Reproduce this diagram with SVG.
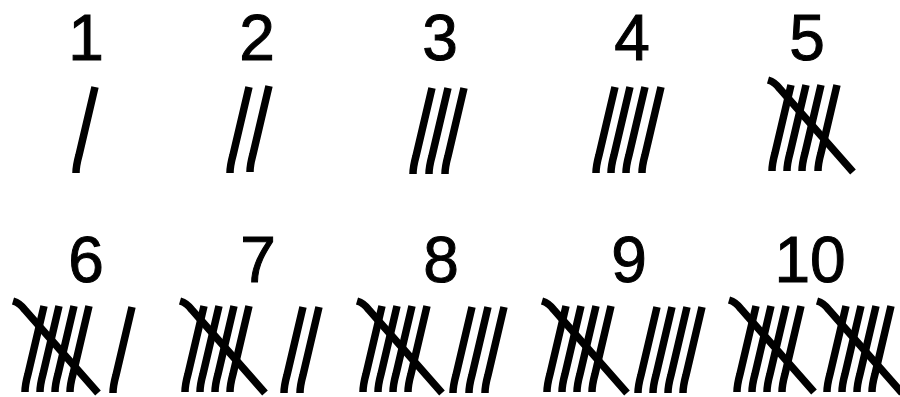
<svg xmlns="http://www.w3.org/2000/svg" xmlns:xlink="http://www.w3.org/1999/xlink" width="900" height="397" viewBox="0 0 900 397">
<style>
.n{font-family:"Liberation Sans","DejaVu Sans",sans-serif;font-size:64px;fill:#000;stroke:#000;stroke-width:1;text-anchor:middle}
.s{fill:none;stroke:#000;stroke-width:7.5}
</style>
<defs>
<path id="m" class="s" d="M20,0 L4,68 Q1,79 1,86"/>
<path id="d" class="s" d="M0,0 Q7,2 12,9 L85,92"/>
</defs>
<rect width="900" height="397" fill="#fff"/>
<g id="n1"><text class="n" x="86" y="60">1</text>
<use xlink:href="#m" x="75" y="87"/></g>
<g id="n2"><text class="n" x="257" y="60">2</text>
<use xlink:href="#m" x="229" y="87"/><use xlink:href="#m" x="249" y="86"/></g>
<g id="n3"><text class="n" x="440" y="60">3</text>
<use xlink:href="#m" x="412" y="88"/><use xlink:href="#m" x="428" y="88"/><use xlink:href="#m" x="444" y="88"/></g>
<g id="n4"><text class="n" x="632" y="60">4</text>
<use xlink:href="#m" x="595" y="87"/><use xlink:href="#m" x="610" y="87"/><use xlink:href="#m" x="625" y="87"/><use xlink:href="#m" x="641" y="87"/></g>
<g id="n5"><text class="n" x="807" y="60">5</text>
<use xlink:href="#m" x="771" y="85"/><use xlink:href="#m" x="786" y="85"/><use xlink:href="#m" x="801" y="85"/><use xlink:href="#m" x="817" y="85"/>
<use xlink:href="#d" x="768" y="80"/></g>
<g id="n6"><text class="n" x="86" y="282">6</text>
<use xlink:href="#m" x="24" y="306"/><use xlink:href="#m" x="39" y="306"/><use xlink:href="#m" x="54" y="306"/><use xlink:href="#m" x="69" y="306"/>
<use xlink:href="#d" x="13" y="301"/>
<use xlink:href="#m" x="112" y="307"/></g>
<g id="n7"><text class="n" x="258" y="282">7</text>
<use xlink:href="#m" x="184" y="306"/><use xlink:href="#m" x="199" y="306"/><use xlink:href="#m" x="214" y="306"/><use xlink:href="#m" x="229" y="306"/>
<use xlink:href="#d" x="180" y="301"/>
<use xlink:href="#m" x="283" y="307"/><use xlink:href="#m" x="299" y="307"/></g>
<g id="n8"><text class="n" x="441" y="282">8</text>
<use xlink:href="#m" x="362" y="306"/><use xlink:href="#m" x="377" y="306"/><use xlink:href="#m" x="392" y="306"/><use xlink:href="#m" x="407" y="306"/>
<use xlink:href="#d" x="357" y="301"/>
<use xlink:href="#m" x="452" y="307"/><use xlink:href="#m" x="468" y="307"/><use xlink:href="#m" x="484" y="307"/></g>
<g id="n9"><text class="n" x="629" y="282">9</text>
<use xlink:href="#m" x="546" y="306"/><use xlink:href="#m" x="561" y="306"/><use xlink:href="#m" x="576" y="306"/><use xlink:href="#m" x="591" y="306"/>
<use xlink:href="#d" x="542" y="301"/>
<use xlink:href="#m" x="637" y="307"/><use xlink:href="#m" x="652" y="307"/><use xlink:href="#m" x="667" y="307"/><use xlink:href="#m" x="682" y="307"/></g>
<g id="n10"><text class="n" x="810" y="282">10</text>
<use xlink:href="#m" x="736" y="306"/><use xlink:href="#m" x="751" y="306"/><use xlink:href="#m" x="766" y="306"/><use xlink:href="#m" x="781" y="306"/>
<use xlink:href="#d" x="729" y="300"/>
<use xlink:href="#m" x="826" y="306"/><use xlink:href="#m" x="841" y="306"/><use xlink:href="#m" x="856" y="306"/><use xlink:href="#m" x="871" y="306"/>
<use xlink:href="#d" x="817" y="301"/></g>
</svg>
